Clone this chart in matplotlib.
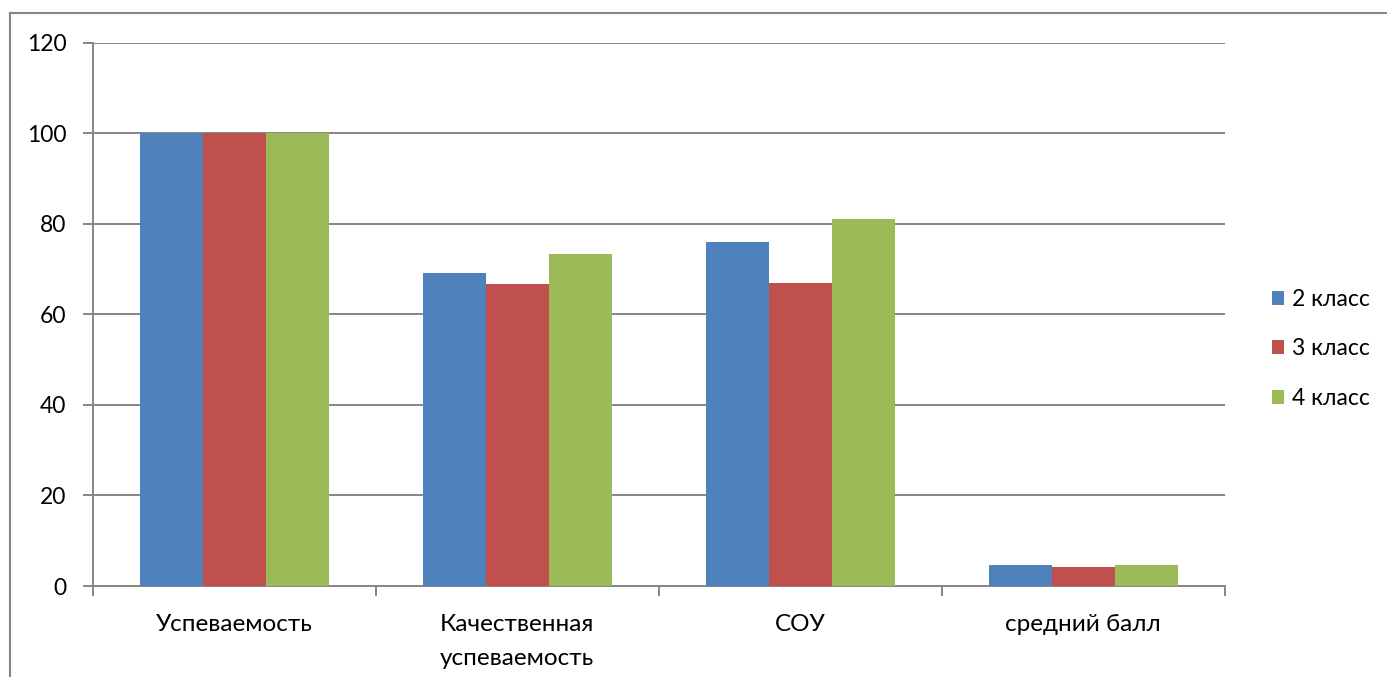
import matplotlib.pyplot as plt
import numpy as np
from matplotlib.lines import Line2D
from matplotlib.patches import Patch

plt.rcParams['font.family'] = ['Lato', 'DejaVu Sans']

categories = ['Успеваемость', 'Качественная\nуспеваемость', 'СОУ', 'средний балл']
series_names = ['2 класс', '3 класс', '4 класс']
class2 = [100, 69.2, 76.0, 4.7]
class3 = [100, 66.7, 66.9, 4.1]
class4 = [100, 73.3, 81.0, 4.7]
colors = ['#4F81BD', '#C0504D', '#9BBB59']

fig = plt.figure(figsize=(13.87, 6.77), dpi=100)
ax = fig.add_axes([0.067, 0.1344, 0.816, 0.8025])

x = np.arange(len(categories))
width = 1 / 4.5
for i, (vals, name) in enumerate(zip([class2, class3, class4], series_names)):
    ax.bar(x + (i - 1) * width, vals, width, color=colors[i], label=name, zorder=3)

grid_c = '#868686'
ax.set_ylim(0, 120)
ax.set_xlim(-0.5, len(categories) - 0.5)
ax.set_yticks(range(0, 121, 20))
ax.yaxis.grid(True, color=grid_c, linewidth=1.4, zorder=0)
ax.set_xticks(x)
ax.set_xticklabels(categories, fontsize=17.5, linespacing=1.75)
ax.set_xticks(np.arange(-0.5, len(categories), 1), minor=True)
ax.tick_params(axis='x', which='major', length=0, pad=20)
ax.tick_params(axis='x', which='minor', length=7, width=1.4, color=grid_c)
ax.tick_params(axis='y', length=7, width=1.4, color=grid_c, labelsize=16.5, pad=12)
for s in ['top', 'right']:
    ax.spines[s].set_visible(False)
for s in ['left', 'bottom']:
    ax.spines[s].set_color(grid_c)
    ax.spines[s].set_linewidth(1.4)

handles = [Patch(facecolor=c) for c in colors]
fig.legend(handles, series_names, loc='center left',
           bbox_to_anchor=(1251 / 1387, 1 - 349 / 677),
           frameon=False, fontsize=16.5, handlelength=0.55, handleheight=0.55,
           handletextpad=0.35, labelspacing=1.25)

# outer chart frame (top and left edges visible)
fig.add_artist(Line2D([10 / 1387, 1], [1 - 13 / 677, 1 - 13 / 677], color=grid_c, lw=1.5))
fig.add_artist(Line2D([10 / 1387, 10 / 1387], [0, 1 - 13 / 677], color=grid_c, lw=1.5))

plt.savefig('out.png', dpi=100)
